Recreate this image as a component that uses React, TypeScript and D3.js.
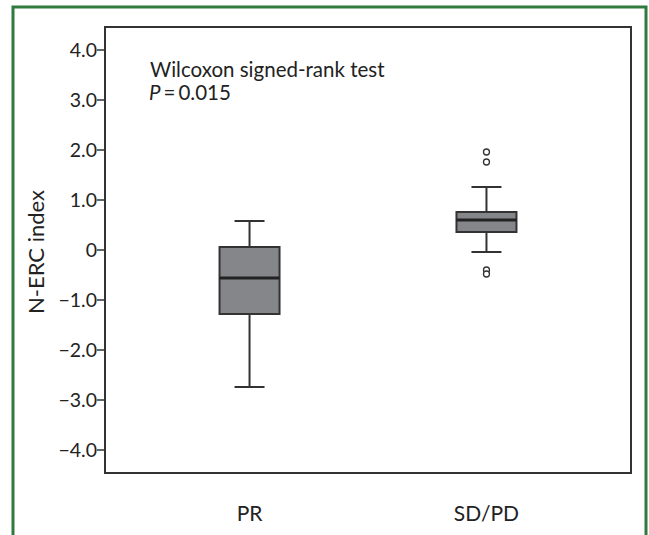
import React from 'react';
import * as d3 from 'd3';

const groups = ['PR', 'SD/PD'];
const whiskerLow = [-2.74, -0.04];
const q1 = [-1.28, 0.36];
const medians = [-0.56, 0.6];
const q3 = [0.06, 0.76];
const whiskerHigh = [0.58, 1.26];
const outliers = [[], [1.96, 1.76, -0.4, -0.48]];
const yTicks = [4, 3, 2, 1, 0, -1, -2, -3, -4];

const W = 649;
const H = 535;
const frame = { left: 105, top: 27, right: 631, bottom: 473 };
const font = 'Lato, "Open Sans", sans-serif';

function fmt(v: number) {
  if (v === 0) return '0';
  return (v < 0 ? '\u2212' : '') + Math.abs(v).toFixed(1);
}

export default function App() {
  const y = d3.scaleLinear().domain([-4.46, 4.46]).range([frame.bottom, frame.top]);
  const x = d3.scalePoint().domain(groups).range([frame.left, frame.right]).padding(0.61);
  const boxW = 60;
  const capW = 30;

  return (
    <svg width={W} height={H} style={{ position: 'absolute', left: 0, top: 0, background: '#fff' }}>
      <rect x={13} y={7} width={633} height={H + 20} fill="none" stroke="#2f7a3d" strokeWidth={3} />
      <rect x={frame.left} y={frame.top} width={frame.right - frame.left} height={frame.bottom - frame.top}
        fill="none" stroke="#333" strokeWidth={2} />
      {yTicks.map(t => (
        <g key={t}>
          <line x1={frame.left - 8} x2={frame.left} y1={y(t)} y2={y(t)} stroke="#333" strokeWidth={1.5} />
          <text x={frame.left - 8} y={y(t)} dy="0.36em" textAnchor="end" fontFamily={font} fontSize={19.5} fill="#222">{fmt(t)}</text>
        </g>
      ))}
      <text transform={`translate(44,252) rotate(-90)`} textAnchor="middle" fontFamily={font} fontSize={22} fill="#222">N-ERC index</text>
      <text x={150} y={77} fontFamily={font} fontSize={20.5} fill="#222">Wilcoxon signed-rank test</text>
      <text x={149} y={100} fontFamily={font} fontSize={20.5} fill="#222">
        <tspan fontStyle="italic">P</tspan><tspan dx={3}>=</tspan><tspan dx={3}>0.015</tspan>
      </text>
      {groups.map((g, i) => {
        const cx = x(g) as number;
        return (
          <g key={g}>
            <line x1={cx} x2={cx} y1={y(whiskerLow[i])} y2={y(q1[i])} stroke="#333" strokeWidth={2} />
            <line x1={cx} x2={cx} y1={y(whiskerHigh[i])} y2={y(q3[i])} stroke="#333" strokeWidth={2} />
            <line x1={cx - capW / 2} x2={cx + capW / 2} y1={y(whiskerLow[i])} y2={y(whiskerLow[i])} stroke="#333" strokeWidth={2} />
            <line x1={cx - capW / 2} x2={cx + capW / 2} y1={y(whiskerHigh[i])} y2={y(whiskerHigh[i])} stroke="#333" strokeWidth={2} />
            <rect x={cx - boxW / 2} y={y(q3[i])} width={boxW} height={y(q1[i]) - y(q3[i])} fill="#85868a" stroke="#333" strokeWidth={2} />
            <line x1={cx - boxW / 2} x2={cx + boxW / 2} y1={y(medians[i])} y2={y(medians[i])} stroke="#222" strokeWidth={3} />
            {outliers[i].map((o, j) => (
              <circle key={j} cx={cx} cy={y(o)} r={3} fill="#fff" stroke="#333" strokeWidth={1.3} />
            ))}
            <text x={cx} y={521} textAnchor="middle" fontFamily={font} fontSize={21} fill="#222">{g}</text>
          </g>
        );
      })}
    </svg>
  );
}
